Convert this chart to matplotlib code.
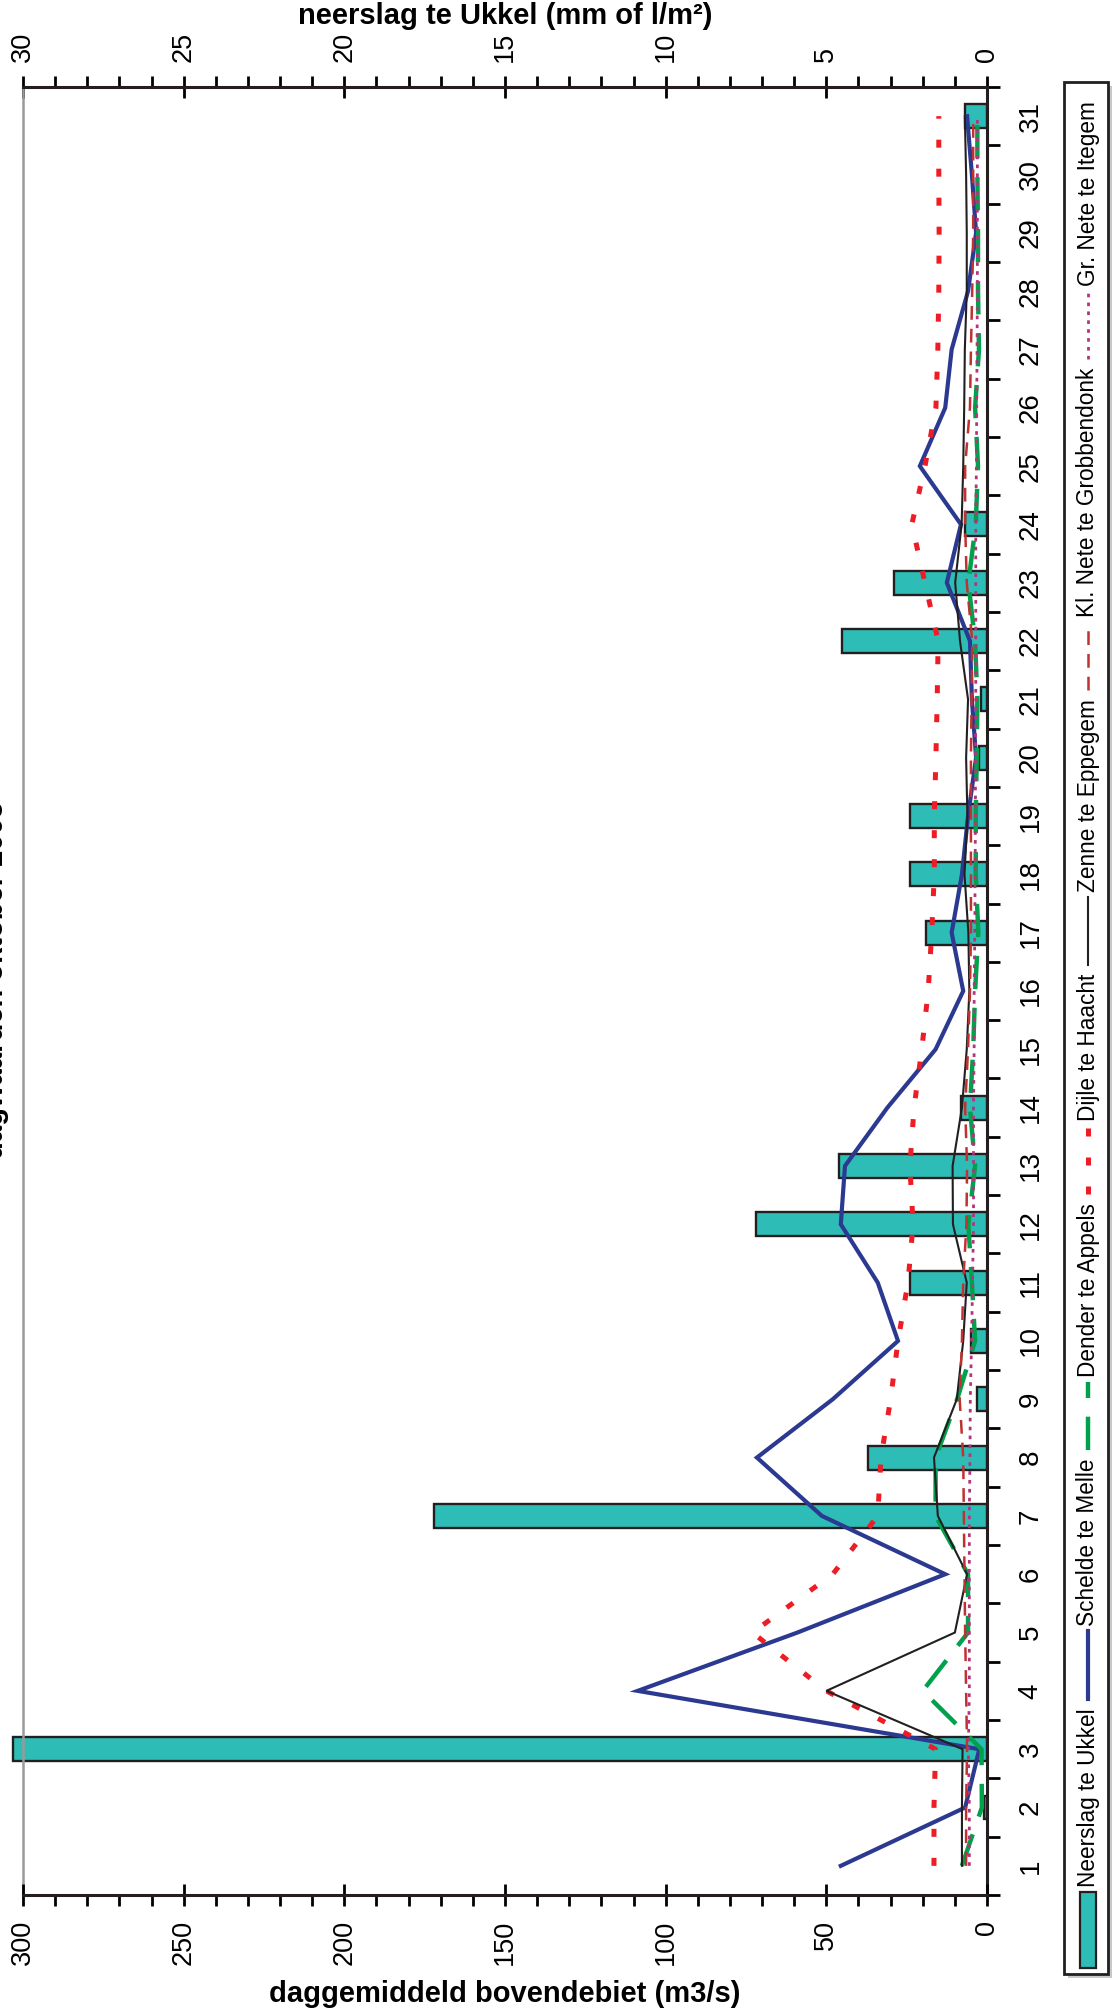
import matplotlib

matplotlib.use("Agg")
import matplotlib.pyplot as plt
from matplotlib.lines import Line2D
from matplotlib.patches import Rectangle

days = list(range(1, 32))

# neerslag te Ukkel (mm), bovenste as
neerslag_ukkel = [0, 0.1, 30.3, 0, 0, 0, 17.2, 3.7, 0.3, 0.5, 2.4, 7.2, 4.6, 0.8, 0, 0,
                  1.9, 2.4, 2.4, 0.25, 0.2, 4.5, 2.9, 0.7, 0, 0, 0, 0, 0, 0, 0.7]

# daggemiddeld bovendebiet (m3/s)
schelde_melle = [45.5, 6.8, 2.4, 108.7, 59, 13, 51.4, 71.6, 48, 27.7, 34, 45.5, 44.2, 31, 16, 7.4,
                 11, 7.8, 5.9, 3.4, 4.7, 5.3, 12.5, 8.1, 20.9, 13, 11, 5.9, 3.4, 4.7, 6.2]
dender_appels = [7.8, 1.6, 1.7, 20, 5.9, 5.9, 16, 16, 9.3, 3.7, 4.7, 5.8, 3.7, 5.3, 4.3, 3.7,
                 2.7, 3.5, 3.5, 3.2, 3, 3.7, 5.8, 3.5, 2.8, 3.7, 2.5, 2.8, 2.8, 3, 3]
dijle_haacht = [16.5, 16.5, 16, 50, 73, 48, 34, 33, 30, 27.7, 24.6, 23, 24, 22.7, 20.3, 18.3,
                17.2, 16.4, 16.4, 15.9, 15.5, 15.2, 19.3, 23.4, 19.3, 15.9, 15.3, 15, 14.9, 15, 15]
zenne_eppegem = [7.8, 7.8, 7.6, 50, 10, 6.2, 15.3, 16.5, 9.4, 7.4, 6.3, 10.6, 10.7, 7.8, 6.3, 5.5,
                 5.8, 7, 6.1, 6.5, 5.9, 8.4, 9.9, 7.9, 7.4, 7.1, 6.9, 6.3, 6.3, 6.5, 6.9]
klnete_grobbendonk = [6.5, 6.5, 6.2, 6.5, 6.8, 7, 7.2, 7.4, 8.5, 7.8, 7.4, 6.4, 6.2, 6.8, 5.9, 5.3,
                      5, 5, 5, 5, 4.8, 4.6, 6.3, 6.8, 6.8, 5.3, 5, 4.6, 4.3, 4.3, 4.3]
grnete_itegem = [5.5, 5.5, 5.8, 5.5, 5.5, 5.5, 5.5, 5.3, 5.2, 4.8, 4.5, 4.2, 4.2, 4.2, 4, 4,
                 3.8, 3.7, 3.6, 3.6, 3.5, 3.5, 3.5, 3.5, 3.3, 3.2, 3.1, 3, 3, 3, 3]

neerslag_ticks = list(range(0, 31, 5))
debiet_ticks = list(range(0, 301, 50))

FONT = ["Liberation Sans", "DejaVu Sans"]
plt.rcParams["font.family"] = FONT

TEAL = "#2ebdb6"
series = [
    ("Schelde te Melle", schelde_melle, dict(color="#2b3990", lw=3.0, ls="-")),
    ("Dender te Appels", dender_appels, dict(color="#00a14b", lw=3.2, ls=(0, (7.5, 4.2)))),
    ("Dijle te Haacht", dijle_haacht, dict(color="#ee1c25", lw=3.6, ls=(0, (1.6, 4.2)))),
    ("Zenne te Eppegem", zenne_eppegem, dict(color="#231f20", lw=1.5, ls="-")),
    ("Kl. Nete te Grobbendonk", klnete_grobbendonk, dict(color="#be3232", lw=1.8, ls=(0, (5.5, 3.6)))),
    ("Gr. Nete te Itegem", grnete_itegem, dict(color="#b5337c", lw=2.0, ls=(0, (1.3, 1.9)))),
]

DPI = 100
W, H = 1115, 2011
fig = plt.figure(figsize=(W / DPI, H / DPI), dpi=DPI)


def fx(px):
    return px / W


def fy(py):
    return 1 - py / H


# plot area in pixels: x 23..987, y 87..1895
ax = fig.add_axes([fx(23), fy(1895), fx(987) - fx(23), fy(87) - fy(1895)])
ax2 = ax.twiny()
ax.set_xlim(30, 0)
ax.set_ylim(0.5, 31.5)
ax2.set_xlim(300, 0)
ax2.set_ylim(0.5, 31.5)
ax2.patch.set_visible(False)

bar_days = [d for d, v in zip(days, neerslag_ukkel) if v > 0]
bar_vals = [v for v in neerslag_ukkel if v > 0]
ax.barh(bar_days, bar_vals, height=0.41, color=TEAL, edgecolor="#231f20",
        linewidth=1.7, clip_on=False, zorder=2)

for name, values, style in series:
    ax2.plot(values, days, color=style["color"], lw=style["lw"], ls=style["ls"],
             solid_joinstyle="miter", zorder=3)

# neerslag-as bovenaan
ax.xaxis.set_ticks_position("top")
ax.xaxis.set_label_position("top")
ax.set_xticks(neerslag_ticks, [str(t) for t in neerslag_ticks], fontsize=19.5, rotation=90)
ax.set_xticks(range(0, 31), minor=True)
ax.tick_params(axis="x", which="major", direction="inout", length=16, width=2, pad=10)
ax.tick_params(axis="x", which="minor", direction="out", length=8, width=2)

# dagen rechts
ax.yaxis.tick_right()
ax.set_yticks([d + 0.5 for d in range(0, 32)], [""] * 32)
ax.set_yticks(days, [str(d) for d in days], minor=True, fontsize=20, rotation=90, va="center")
ax.tick_params(axis="y", which="major", direction="out", length=9, width=2)
ax.tick_params(axis="y", which="minor", length=0, pad=22)

for side in ("top", "right"):
    ax.spines[side].set_linewidth(2.2)
    ax.spines[side].set_color("#231f20")
ax.spines["left"].set_color("#9a9a9a")
ax.spines["left"].set_linewidth(1.8)
ax.spines["bottom"].set_visible(False)

# debiet-as onderaan
ax2.xaxis.set_ticks_position("bottom")
ax2.xaxis.set_label_position("bottom")
ax2.set_xticks(debiet_ticks, [str(t) for t in debiet_ticks], fontsize=19.5, rotation=90)
ax2.set_xticks(range(0, 301, 10), minor=True)
ax2.tick_params(axis="x", which="major", direction="inout", length=16, width=2, pad=10)
ax2.tick_params(axis="x", which="minor", direction="out", length=8, width=2)
ax2.tick_params(axis="y", left=False, right=False, labelleft=False, labelright=False)
for side in ("top", "left", "right"):
    ax2.spines[side].set_visible(False)
ax2.spines["bottom"].set_linewidth(2.2)
ax2.spines["bottom"].set_color("#231f20")

fig.text(fx(505), fy(16), "neerslag te Ukkel (mm of l/m²)", ha="center", va="center",
         fontweight="bold", fontsize=21)
fig.text(fx(505), fy(1994), "daggemiddeld bovendebiet (m3/s)", ha="center", va="center",
         fontweight="bold", fontsize=21)
fig.text(fx(9), fy(980), "dagwaarden oktober 2005", ha="right", va="center", rotation=90,
         fontweight="bold", fontsize=21)

# legende, met de hand getekend omdat ze gedraaid staat
LX0, LX1, LY0, LY1 = 1064, 1108, 82, 1974
lax = fig.add_axes([fx(LX0), fy(LY1), fx(LX1) - fx(LX0), fy(LY0) - fy(LY1)])
lw_px, lh_px = LX1 - LX0, LY1 - LY0
lax.set_xlim(0, lw_px)
lax.set_ylim(0, lh_px)
lax.axis("off")
lax.add_patch(Rectangle((4, -4), lw_px, lh_px, facecolor="#c8c8c8", edgecolor="none",
                        clip_on=False, zorder=0))
lax.add_patch(Rectangle((0, 0), lw_px, lh_px, facecolor="white", edgecolor="#231f20",
                        lw=2, clip_on=False, zorder=1))

renderer = fig.canvas.get_renderer()
cx = 24
handle_len = 68
pos = 6
entries = [("Neerslag te Ukkel", None)] + [(n, s) for n, _, s in series]
for label, style in entries:
    if style is None:
        lax.add_patch(Rectangle((cx - 8, pos), 16, handle_len + 8, facecolor=TEAL,
                                edgecolor="#231f20", lw=1.6, zorder=2))
        pos += handle_len + 8
    else:
        lax.add_line(Line2D([cx, cx], [pos, pos + handle_len], color=style["color"],
                            lw=style["lw"], ls=style["ls"], zorder=2))
        pos += handle_len
    pos += 5
    t = lax.text(cx, pos, label, rotation=90, ha="center", va="bottom",
                 fontsize=16.3, zorder=3)
    pos += t.get_window_extent(renderer).height + 9

fig.savefig("out.png", dpi=DPI)
